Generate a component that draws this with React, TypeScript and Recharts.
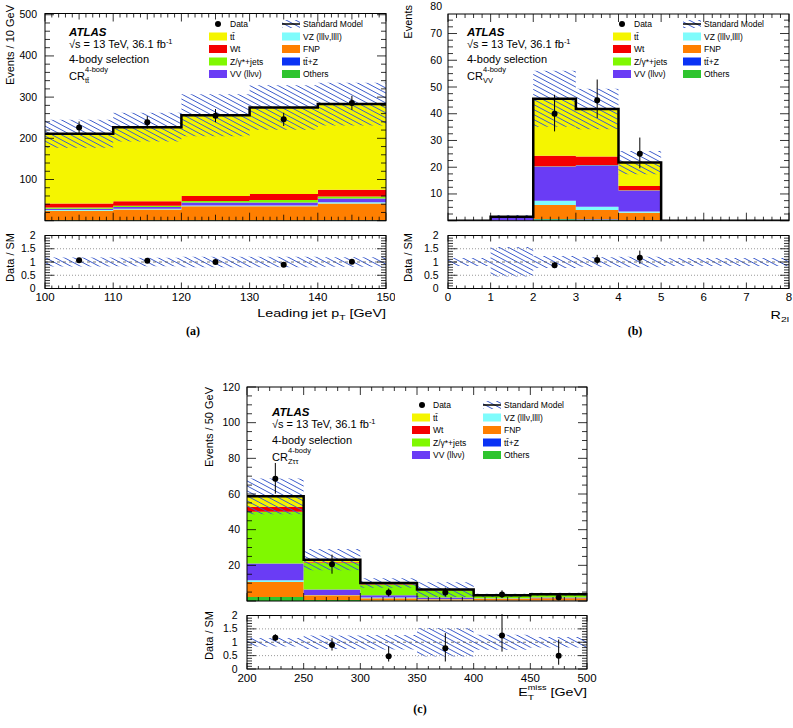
import {
  Area,
  ComposedChart,
  ErrorBar,
  Line,
  ReferenceLine,
  Scatter,
  XAxis,
  YAxis,
} from 'recharts'

const FONT = '"Liberation Sans", Arial, Helvetica, sans-serif'
const HATCH = '#3d5ccc'

// ---- (a) CR ttbar, leading jet pT
const ptEdges = [100, 110, 120, 130, 140, 150]
const ptCenters = [105, 115, 125, 135, 145]
const ptOthers = [0.8, 0.8, 0.9, 0.9, 1.0]
const ptTtz = [0.3, 0.3, 0.4, 0.4, 0.5]
const ptFnp = [22.9, 25.9, 33.7, 33.7, 40.5]
const ptVz = [2, 2, 2, 2, 3]
const ptVv = [3, 4, 7, 7, 9]
const ptZjets = [3, 3, 4, 6, 5]
const ptWt = [10, 11, 12, 15, 16]
const ptTtbar = [169, 180, 196, 210, 208]
const ptBandLo = [177, 192, 205, 221, 231]
const ptBandHi = [245, 262, 307, 329, 335]
const ptData = [226, 239, 255, 246, 286]
const ptDataLo = [211, 224, 239, 230, 269]
const ptDataHi = [241, 254, 271, 262, 303]
const ptRatioBandLo = [0.83, 0.84, 0.8, 0.8, 0.82]
const ptRatioBandHi = [1.17, 1.16, 1.2, 1.2, 1.18]
const ptRatio = [1.07, 1.05, 1.0, 0.9, 1.01]
const ptRatioLo = [1.0, 0.98, 0.93, 0.84, 0.95]
const ptRatioHi = [1.14, 1.12, 1.07, 0.96, 1.07]
const ptXLabels = [100, 110, 120, 130, 140, 150]
const ptYLabels = [100, 200, 300, 400, 500]

// ---- (b) CR VV, R2l
const r2lEdges = [0, 1, 2, 3, 4, 5, 6, 7, 8]
const r2lCenters = [2.5, 3.5, 4.5]
const r2lOthers = [0, 0.05, 0.5, 0.4, 0.2, 0, 0, 0]
const r2lTtz = [0, 0.05, 0.1, 0.1, 0.1, 0, 0, 0]
const r2lFnp = [0, 0, 5.3, 3.5, 2.7, 0, 0, 0]
const r2lVz = [0, 0, 1.6, 1.25, 0.4, 0, 0, 0]
const r2lVv = [0, 1.3, 12.75, 15.5, 7.85, 0, 0, 0]
const r2lZjets = [0, 0, 0.1, 0.1, 0.1, 0, 0, 0]
const r2lWt = [0, 0, 3.9, 3.2, 1.65, 0, 0, 0]
const r2lTtbar = [0, 0.1, 21.35, 17.7, 8.75, 0, 0, 0]
const r2lBandLo = [0, 0.9, 35.1, 34.2, 17.4, 0, 0, 0]
const r2lBandHi = [0, 2.1, 56.1, 49.3, 26.1, 0, 0, 0]
const r2lData = [40, 45, 25]
const r2lDataLo = [33.4, 38.4, 19.6]
const r2lDataHi = [47.1, 52.8, 31.1]
const r2lRatioBandLo = [0.85, 0.45, 0.77, 0.82, 0.8, 0.85, 0.85, 0.85]
const r2lRatioBandHi = [1.15, 1.57, 1.23, 1.18, 1.2, 1.15, 1.15, 1.15]
const r2lRatio = [0.88, 1.08, 1.16]
const r2lRatioLo = [0.77, 0.92, 0.93]
const r2lRatioHi = [0.99, 1.27, 1.43]
const r2lXLabels = [0, 1, 2, 3, 4, 5, 6, 7, 8]
const r2lYLabels = [10, 20, 30, 40, 50, 60, 70, 80]

// ---- (c) CR Ztautau, ETmiss
const metEdges = [200, 250, 300, 350, 400, 450, 500]
const metCenters = [225, 275, 325, 375, 425, 475]
const metOthers = [2.2, 0.5, 0.3, 0.2, 0.2, 0.2]
const metTtz = [0.1, 0.1, 0.05, 0.05, 0.05, 0.05]
const metFnp = [8.4, 2.6, 1.25, 0.75, 1.05, 1.25]
const metVz = [0.9, 0.1, 0.3, 0.1, 0.1, 0.1]
const metVv = [9.4, 3.1, 1.3, 0.8, 0.2, 0.3]
const metZjets = [29, 14.9, 6.1, 4.1, 1.3, 1.6]
const metWt = [2.7, 0.4, 0.2, 0.1, 0.1, 0.1]
const metTtbar = [6.0, 1.5, 0.6, 0.3, 0.2, 0.2]
const metBandLo = [48.7, 17.2, 7.4, 2.3, 2.3, 3.0]
const metBandHi = [68.7, 29.2, 12.8, 10.5, 4.1, 4.6]
const metData = [68.6, 20.6, 4.7, 4.7, 3.7, 1.9]
const metDataLo = [60.2, 15.3, 2.5, 2.5, 1.8, 0.5]
const metDataHi = [77.4, 26, 7, 7.5, 6, 4]
const metRatioBandLo = [0.84, 0.75, 0.73, 0.47, 0.72, 0.8]
const metRatioBandHi = [1.16, 1.25, 1.27, 1.53, 1.28, 1.2]
const metRatio = [1.17, 0.9, 0.48, 0.78, 1.25, 0.5]
const metRatioLo = [1.05, 0.69, 0.28, 0.28, 0.65, 0.16]
const metRatioHi = [1.3, 1.15, 0.85, 1.34, 2.05, 1.1]
const metXLabels = [200, 250, 300, 350, 400, 450, 500]
const metYLabels = [20, 40, 60, 80, 100, 120]

const ratioYLabels = [0, 0.5, 1, 1.5, 2]

// stacking order, bottom first
const processes = [
  { key: 'others', label: 'Others', color: '#2ec42e' },
  { key: 'ttz', label: 'tt\u0304+Z', color: '#0a32f5' },
  { key: 'fnp', label: 'FNP', color: '#ff7f00' },
  { key: 'vz', label: 'VZ (lll\u03bd,llll)', color: '#7ffcfc' },
  { key: 'vv', label: 'VV (ll\u03bd\u03bd)', color: '#6a3cf5' },
  { key: 'zjets', label: 'Z/\u03b3*+jets', color: '#80f800' },
  { key: 'wt', label: 'Wt', color: '#f50000' },
  { key: 'ttbar', label: 'tt\u0304', color: '#f5f500' },
]
const proc = (k: string) => processes.find((p) => p.key === k)!

function stackRows(edges: number[], comps: Record<string, number[]>, lo: number[], hi: number[]) {
  return edges.map((x, i) => {
    const j = Math.min(i, edges.length - 2)
    const row: Record<string, any> = { x, band: [lo[j], hi[j]] }
    let total = 0
    Object.keys(comps).forEach((k) => {
      row[k] = comps[k][j]
      total += comps[k][j]
    })
    row.total = total
    return row
  })
}

function pointRows(xs: number[], ys: number[], lo: number[], hi: number[]) {
  return xs.map((x, i) => ({ x, y: ys[i], err: [ys[i] - lo[i], hi[i] - ys[i]] }))
}

type Box = { x: number; y: number; w: number; h: number }
type Frame = { l: number; t: number; r: number; b: number }
type AxisSpec = {
  minor: number
  mid?: number
  major: number
  labels: number[]
  lens: [number, number, number]
  gap?: number
}

const isMult = (v: number, step?: number) =>
  step !== undefined && Math.abs(v / step - Math.round(v / step)) < 1e-6

function axisTicks(domain: [number, number], spec: AxisSpec) {
  const out: number[] = []
  const i0 = Math.ceil(domain[0] / spec.minor - 1e-6)
  const i1 = Math.floor(domain[1] / spec.minor + 1e-6)
  for (let i = i0; i <= i1; i++) out.push(Math.round(i * spec.minor * 1e6) / 1e6)
  spec.labels.forEach((v) => {
    if (!out.includes(v)) out.push(v)
  })
  return out.sort((a, b) => a - b)
}

const tickLen = (v: number, s: AxisSpec) =>
  isMult(v, s.major) ? s.lens[0] : isMult(v, s.mid) ? s.lens[1] : s.lens[2]

type PadProps = {
  id: string
  box: Box
  frame: Frame
  rows: Record<string, any>[]
  points: { x: number; y: number; err: number[] }[]
  xDomain: [number, number]
  yDomain: [number, number]
  xAxis: AxisSpec
  yAxis: AxisSpec
  stacked?: boolean
}

// axes get 1px of room (recharts skips an axis of zero size)
const AX = 1

function Pad(p: PadProps) {
  const { box, frame } = p
  const margin = {
    left: frame.l - box.x - AX,
    top: frame.t - box.y,
    right: box.x + box.w - frame.r,
    bottom: box.y + box.h - frame.b - AX,
  }
  const top = frame.t - box.y
  const bottom = frame.b - box.y
  const left = frame.l - box.x
  const right = frame.r - box.x

  const xTick = (props: any) => {
    const v = props.payload.value
    const cx = props.payload.coordinate ?? props.x
    const len = tickLen(v, p.xAxis)
    return (
      <g>
        <line x1={cx} x2={cx} y1={bottom} y2={bottom - len} stroke="#000" strokeWidth={0.8} />
        <line x1={cx} x2={cx} y1={top} y2={top + len} stroke="#000" strokeWidth={0.8} />
        {p.xAxis.labels.includes(v) && (
          <text x={cx} y={bottom + (p.xAxis.gap ?? 12.5)} textAnchor="middle" fontSize={11.5} fontFamily={FONT} fill="#000">
            {String(v)}
          </text>
        )}
      </g>
    )
  }

  const yTick = (props: any) => {
    const v = props.payload.value
    const cy = props.payload.coordinate ?? props.y
    const len = tickLen(v, p.yAxis)
    const inside = cy >= top - 0.5
    return (
      <g>
        {inside && <line x1={left} x2={left + len} y1={cy} y2={cy} stroke="#000" strokeWidth={0.8} />}
        {inside && <line x1={right} x2={right - len} y1={cy} y2={cy} stroke="#000" strokeWidth={0.8} />}
        {p.yAxis.labels.includes(v) && (
          <text x={left - (p.yAxis.gap ?? 8)} y={cy + 3.5} textAnchor="end" fontSize={10.5} fontFamily={FONT} fill="#000">
            {String(v)}
          </text>
        )}
      </g>
    )
  }

  const dot = (s: any) => <circle cx={s.cx} cy={s.cy} r={3} fill="#000" />

  return (
    <div style={{ position: 'absolute', left: box.x, top: box.y }}>
      <ComposedChart width={box.w} height={box.h} margin={margin} data={p.rows}>
        <defs>
          <pattern id={p.id} width={6} height={4.4} patternUnits="userSpaceOnUse" patternTransform="rotate(28)">
            <line x1={0} y1={2.2} x2={6} y2={2.2} stroke={HATCH} strokeWidth={0.9} />
          </pattern>
        </defs>
        {p.stacked &&
          processes.map((s) => (
            <Area
              key={s.key}
              dataKey={s.key}
              stackId="mc"
              type="stepAfter"
              fill={s.color}
              fillOpacity={1}
              stroke="none"
              isAnimationActive={false}
            />
          ))}
        {!p.stacked && <ReferenceLine y={0.5} stroke="#999" strokeDasharray="1 2" />}
        {!p.stacked && <ReferenceLine y={1.5} stroke="#999" strokeDasharray="1 2" />}
        {!p.stacked && <ReferenceLine y={1} stroke="#555" strokeDasharray="3 3" strokeWidth={0.8} />}
        <Area
          dataKey="band"
          type="stepAfter"
          fill={`url(#${p.id})`}
          fillOpacity={1}
          stroke="none"
          isAnimationActive={false}
        />
        {p.stacked && (
          <Line
            dataKey="total"
            type="stepAfter"
            stroke="#000"
            strokeWidth={2.5}
            dot={false}
            isAnimationActive={false}
          />
        )}
        <Scatter data={p.points} dataKey="y" shape={dot} isAnimationActive={false}>
          <ErrorBar dataKey="err" direction="y" width={0} stroke="#000" strokeWidth={1} isAnimationActive={false} />
        </Scatter>
        <XAxis
          type="number"
          dataKey="x"
          domain={p.xDomain}
          ticks={axisTicks(p.xDomain, p.xAxis)}
          interval={0}
          tick={xTick}
          tickLine={false}
          axisLine={false}
          height={AX}
          allowDataOverflow
        />
        <YAxis
          type="number"
          domain={p.yDomain}
          ticks={axisTicks(p.yDomain, p.yAxis)}
          interval={0}
          tick={yTick}
          tickLine={false}
          axisLine={false}
          width={AX}
          allowDataOverflow
        />
      </ComposedChart>
    </div>
  )
}

function Legend({ x1, x2, dataX, rows }: { x1: number; x2: number; dataX: number; rows: number[] }) {
  const sw = 18
  const sh = 8
  const col1 = ['ttbar', 'wt', 'zjets', 'vv'].map(proc)
  const col2 = ['vz', 'fnp', 'ttz', 'others'].map(proc)
  return (
    <g fontSize={8.5}>
      <circle cx={dataX} cy={rows[0]} r={3} fill="#000" />
      <text x={x1 + 21} y={rows[0] + 3}>Data</text>
      <rect x={x2} y={rows[0] - sh / 2} width={sw} height={sh} fill="url(#legHatch)" />
      <line x1={x2} x2={x2 + sw} y1={rows[0]} y2={rows[0]} stroke="#000" strokeWidth={1.5} />
      <text x={x2 + 21} y={rows[0] + 3}>Standard Model</text>
      {col1.map((s, i) => (
        <g key={s.key}>
          <rect x={x1} y={rows[i + 1] - sh / 2} width={sw} height={sh} fill={s.color} />
          <text x={x1 + 21} y={rows[i + 1] + 3}>{s.label}</text>
        </g>
      ))}
      {col2.map((s, i) => (
        <g key={s.key}>
          <rect x={x2} y={rows[i + 1] - sh / 2} width={sw} height={sh} fill={s.color} />
          <text x={x2 + 21} y={rows[i + 1] + 3}>{s.label}</text>
        </g>
      ))}
    </g>
  )
}

function AtlasLabel({ x, y, region }: { x: number; y: number; region: string }) {
  return (
    <g fontSize={11}>
      <text x={x} y={y} fontWeight="bold" fontStyle="italic" fontSize={11.5}>
        ATLAS
      </text>
      <text x={x} y={y + 12}>
        {'\u221As = 13 TeV, 36.1 fb'}
        <tspan dy={-4} fontSize={7.5}>
          -1
        </tspan>
      </text>
      <text x={x} y={y + 27.5}>4-body selection</text>
      <text x={x} y={y + 44.5}>CR</text>
      <text x={x + 16} y={y + 36.5} fontSize={7.5}>
        4-body
      </text>
      <text x={x + 16} y={y + 47.5} fontSize={7.5}>
        {region}
      </text>
    </g>
  )
}

function YTitle({ x, y, text }: { x: number; y: number; text: string }) {
  return (
    <text x={x} y={y} textAnchor="end" fontSize={11} transform={`rotate(-90 ${x} ${y})`}>
      {text}
    </text>
  )
}

// x titles in the reference are drawn wide; stretch them horizontally
function XTitle({ x, y, children }: { x: number; y: number; children: any }) {
  return (
    <g transform={`translate(${x} ${y}) scale(1.3 1)`}>
      <text x={0} y={0} textAnchor="end" fontSize={11}>
        {children}
      </text>
    </g>
  )
}

const FA: Frame = { l: 45, t: 13.5, r: 386, b: 220.7 }
const FAR: Frame = { l: 45, t: 235.5, r: 386, b: 288.5 }
const FB: Frame = { l: 448, t: 14, r: 789, b: 220.7 }
const FBR: Frame = { l: 448, t: 235.5, r: 789, b: 288.5 }
const FC: Frame = { l: 247, t: 387, r: 587, b: 601 }
const FCR: Frame = { l: 247, t: 615.5, r: 587, b: 669 }

function Overlay() {
  const frames = [FA, FAR, FB, FBR, FC, FCR]
  const rowsTop = [24, 36.5, 49, 61.5, 74]
  const rowsC = rowsTop.map((r) => r + 381)
  return (
    <svg
      width={793}
      height={728}
      style={{ position: 'absolute', left: 0, top: 0, pointerEvents: 'none' }}
      fontFamily={FONT}
      fill="#000"
    >
      <defs>
        <pattern id="legHatch" width={6} height={4.4} patternUnits="userSpaceOnUse" patternTransform="rotate(28)">
          <line x1={0} y1={2.2} x2={6} y2={2.2} stroke={HATCH} strokeWidth={0.9} />
        </pattern>
      </defs>
      {frames.map((f, i) => (
        <rect key={i} x={f.l} y={f.t} width={f.r - f.l} height={f.b - f.t} fill="none" stroke="#000" strokeWidth={1} />
      ))}

      <AtlasLabel x={69} y={35.5} region={'tt\u0304'} />
      <AtlasLabel x={467} y={35.5} region="VV" />
      <AtlasLabel x={272} y={416} region={'Z\u03c4\u03c4'} />

      <Legend x1={209} x2={282} dataX={218} rows={rowsTop} />
      <Legend x1={613} x2={683} dataX={622} rows={rowsTop} />
      <Legend x1={412} x2={483} dataX={422} rows={rowsC} />

      <YTitle x={14} y={5} text="Events / 10 GeV" />
      <YTitle x={14} y={233} text="Data / SM" />
      <YTitle x={412} y={5} text="Events" />
      <YTitle x={412} y={233} text="Data / SM" />
      <YTitle x={213} y={387} text="Events / 50 GeV" />
      <YTitle x={213} y={611} text="Data / SM" />

      <XTitle x={386} y={317}>
        Leading jet p<tspan dy={3} fontSize={8}>T</tspan>
        <tspan dy={-3}> [GeV]</tspan>
      </XTitle>
      <XTitle x={789} y={319}>
        R<tspan dy={3} fontSize={8}>2l</tspan>
      </XTitle>
      <XTitle x={587} y={695.5}>
        E<tspan dy={4} fontSize={8}>T</tspan>
        <tspan dx={-4.9} dy={-9.5} fontSize={7}>miss</tspan>
        <tspan dy={5.5}> [GeV]</tspan>
      </XTitle>

      <g fontFamily='"Liberation Serif", "Times New Roman", serif' fontWeight="bold" fontSize={12} textAnchor="middle">
        <text x={193} y={335}>(a)</text>
        <text x={635} y={335}>(b)</text>
        <text x={420} y={713}>(c)</text>
      </g>
    </svg>
  )
}

const ratioY: AxisSpec = { minor: 0.1, major: 0.5, labels: ratioYLabels, lens: [9, 0, 5], gap: 9.5 }

export default function App() {
  const ptRows = stackRows(
    ptEdges,
    { others: ptOthers, ttz: ptTtz, fnp: ptFnp, vz: ptVz, vv: ptVv, zjets: ptZjets, wt: ptWt, ttbar: ptTtbar },
    ptBandLo,
    ptBandHi,
  )
  const r2lRows = stackRows(
    r2lEdges,
    { others: r2lOthers, ttz: r2lTtz, fnp: r2lFnp, vz: r2lVz, vv: r2lVv, zjets: r2lZjets, wt: r2lWt, ttbar: r2lTtbar },
    r2lBandLo,
    r2lBandHi,
  )
  const metRows = stackRows(
    metEdges,
    { others: metOthers, ttz: metTtz, fnp: metFnp, vz: metVz, vv: metVv, zjets: metZjets, wt: metWt, ttbar: metTtbar },
    metBandLo,
    metBandHi,
  )

  return (
    <div style={{ position: 'absolute', left: 0, top: 0, width: 793, height: 728, background: '#fff' }}>
      <Pad
        id="hA"
        box={{ x: 0, y: 0, w: 395, h: 228 }}
        frame={FA}
        rows={ptRows}
        points={pointRows(ptCenters, ptData, ptDataLo, ptDataHi)}
        xDomain={[100, 150]}
        yDomain={[0, 503]}
        xAxis={{ minor: 1, mid: 5, major: 10, labels: [], lens: [8, 6, 4] }}
        yAxis={{ minor: 20, major: 100, labels: ptYLabels, lens: [9, 0, 5] }}
        stacked
      />
      <Pad
        id="hAR"
        box={{ x: 0, y: 226, w: 395, h: 84 }}
        frame={FAR}
        rows={stackRows(ptEdges, {}, ptRatioBandLo, ptRatioBandHi)}
        points={pointRows(ptCenters, ptRatio, ptRatioLo, ptRatioHi)}
        xDomain={[100, 150]}
        yDomain={[0, 2]}
        xAxis={{ minor: 1, mid: 5, major: 10, labels: ptXLabels, lens: [6, 4.5, 3] }}
        yAxis={ratioY}
      />
      <Pad
        id="hB"
        box={{ x: 398, y: 0, w: 395, h: 228 }}
        frame={FB}
        rows={r2lRows}
        points={pointRows(r2lCenters, r2lData, r2lDataLo, r2lDataHi)}
        xDomain={[0, 8]}
        yDomain={[0, 77.3]}
        xAxis={{ minor: 0.2, major: 1, labels: [], lens: [8, 0, 4] }}
        yAxis={{ minor: 2.5, major: 10, labels: r2lYLabels, lens: [9, 0, 5], gap: 6 }}
        stacked
      />
      <Pad
        id="hBR"
        box={{ x: 398, y: 226, w: 395, h: 84 }}
        frame={FBR}
        rows={stackRows(r2lEdges, {}, r2lRatioBandLo, r2lRatioBandHi)}
        points={pointRows(r2lCenters, r2lRatio, r2lRatioLo, r2lRatioHi)}
        xDomain={[0, 8]}
        yDomain={[0, 2]}
        xAxis={{ minor: 0.2, major: 1, labels: r2lXLabels, lens: [6, 0, 3] }}
        yAxis={ratioY}
      />
      <Pad
        id="hC"
        box={{ x: 195, y: 376, w: 405, h: 230 }}
        frame={FC}
        rows={metRows}
        points={pointRows(metCenters, metData, metDataLo, metDataHi)}
        xDomain={[200, 500]}
        yDomain={[0, 120]}
        xAxis={{ minor: 10, major: 50, labels: [], lens: [8, 0, 4] }}
        yAxis={{ minor: 5, major: 20, labels: metYLabels, lens: [9, 0, 5], gap: 7 }}
        stacked
      />
      <Pad
        id="hCR"
        box={{ x: 195, y: 606, w: 405, h: 86 }}
        frame={FCR}
        rows={stackRows(metEdges, {}, metRatioBandLo, metRatioBandHi)}
        points={pointRows(metCenters, metRatio, metRatioLo, metRatioHi)}
        xDomain={[200, 500]}
        yDomain={[0, 2]}
        xAxis={{ minor: 10, major: 50, labels: metXLabels, lens: [6, 0, 3], gap: 13 }}
        yAxis={ratioY}
      />
      <Overlay />
    </div>
  )
}
